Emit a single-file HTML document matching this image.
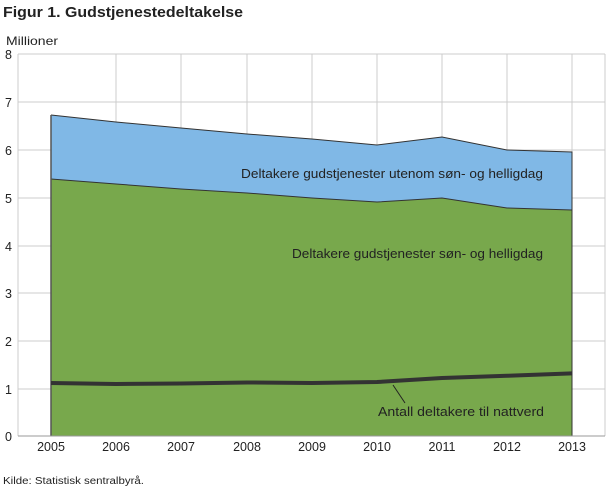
<!DOCTYPE html>
<html><head><style>body{margin:0;background:#fff}svg{display:block}text{font-family:"Liberation Sans",sans-serif}</style></head><body>
<svg width="610" height="488" viewBox="0 0 610 488">
<text x="3" y="17" font-size="15" font-weight="bold" fill="#222" textLength="240" lengthAdjust="spacingAndGlyphs">Figur 1. Gudstjenestedeltakelse</text>
<text x="6" y="45" font-size="12" fill="#222" textLength="52" lengthAdjust="spacingAndGlyphs">Millioner</text>
<g stroke="#ccc" stroke-width="1">
<line x1="18" y1="54" x2="605" y2="54"/><line x1="18" y1="102" x2="605" y2="102"/><line x1="18" y1="150" x2="605" y2="150"/><line x1="18" y1="198" x2="605" y2="198"/><line x1="18" y1="246" x2="605" y2="246"/><line x1="18" y1="293" x2="605" y2="293"/><line x1="18" y1="341" x2="605" y2="341"/><line x1="18" y1="389" x2="605" y2="389"/>
<line x1="18" y1="54" x2="18" y2="436"/><line x1="605" y1="54" x2="605" y2="436"/>
<line x1="116" y1="54" x2="116" y2="436"/><line x1="181" y1="54" x2="181" y2="436"/><line x1="247" y1="54" x2="247" y2="436"/><line x1="312" y1="54" x2="312" y2="436"/><line x1="377" y1="54" x2="377" y2="436"/><line x1="442" y1="54" x2="442" y2="436"/><line x1="507" y1="54" x2="507" y2="436"/><line x1="572" y1="54" x2="572" y2="436"/>
</g>
<polygon fill="#80b8e6" points="51,115 116,122 181,128 247,134 312,139 377,145 442,137 507,150 572,152 572,210 507,208 442,198 377,202 312,198 247,193 181,189 116,184 51,179"/>
<polygon fill="#78a84c" points="51,179 116,184 181,189 247,193 312,198 377,202 442,198 507,208 572,210 572,436 51,436"/>
<polyline fill="none" stroke="#333" stroke-width="1" points="51,115 116,122 181,128 247,134 312,139 377,145 442,137 507,150 572,152 572,436"/>
<polyline fill="none" stroke="#333" stroke-width="1" points="51,179 116,184 181,189 247,193 312,198 377,202 442,198 507,208 572,210"/>
<line x1="51" y1="115" x2="51" y2="436" stroke="#555" stroke-width="1.5"/>
<polyline fill="none" stroke="#333" stroke-width="4" points="51,383 116,384 181,383.5 247,382.5 312,383 377,382 442,378 507,375.8 572,373.4"/>
<line x1="18" y1="436" x2="605" y2="436" stroke="#999"/>
<line x1="405" y1="403" x2="393" y2="385" stroke="#222"/>
<g font-size="12.5" fill="#222">
<text x="241" y="178" textLength="302" lengthAdjust="spacingAndGlyphs">Deltakere gudstjenester utenom søn- og helligdag</text>
<text x="292" y="258" textLength="251" lengthAdjust="spacingAndGlyphs">Deltakere gudstjenester søn- og helligdag</text>
<text x="378" y="416" textLength="166" lengthAdjust="spacingAndGlyphs">Antall deltakere til nattverd</text>
</g>
<g font-size="12.5" fill="#222" text-anchor="end">
<text x="12" y="59">8</text><text x="12" y="107">7</text><text x="12" y="155">6</text><text x="12" y="203">5</text><text x="12" y="251">4</text><text x="12" y="298">3</text><text x="12" y="346">2</text><text x="12" y="394">1</text><text x="12" y="441">0</text>
</g>
<g font-size="12.5" fill="#222" text-anchor="middle">
<text x="51" y="451">2005</text><text x="116" y="451">2006</text><text x="181" y="451">2007</text><text x="247" y="451">2008</text><text x="312" y="451">2009</text><text x="377" y="451">2010</text><text x="442" y="451">2011</text><text x="507" y="451">2012</text><text x="572" y="451">2013</text>
</g>
<text x="3" y="484" font-size="10" fill="#222" textLength="141" lengthAdjust="spacingAndGlyphs">Kilde: Statistisk sentralbyrå.</text>
</svg>
</body></html>
